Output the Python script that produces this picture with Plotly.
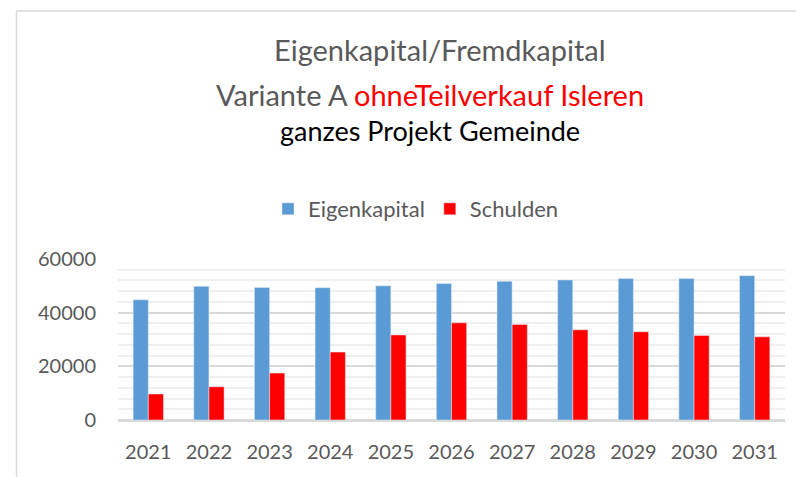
import plotly.graph_objects as go

years = ["2021", "2022", "2023", "2024", "2025", "2026", "2027", "2028", "2029", "2030", "2031"]
eigenkapital = [44800, 49800, 49400, 49300, 50000, 50900, 51700, 52200, 52700, 52700, 53800]
schulden = [9700, 12400, 17500, 25300, 31700, 36200, 35600, 33600, 32900, 31500, 31000]
y_ticks = [0, 20000, 40000, 60000]

W, H = 796, 477
L, R, T, B = 118, 11, 259, 57
PW, PH = W - L - R, H - T - B

def px_x(x):
    return (x - L) / PW

def px_y(y):
    return (H - B - y) / PH

FONT = "Lato"
GRAY = "#595959"

fig = go.Figure()
fig.add_trace(go.Bar(name="Eigenkapital", x=years, y=eigenkapital, marker_color="#5b9bd5"))
fig.add_trace(go.Bar(name="Schulden", x=years, y=schulden, marker_color="#ff0000"))

fig.update_layout(
    width=W, height=H,
    margin=dict(l=L, r=R, t=T, b=B),
    paper_bgcolor="white", plot_bgcolor="white",
    barmode="group", bargap=0.5, bargroupgap=0,
    font=dict(family=FONT, color=GRAY),
    showlegend=True,
    legend=dict(orientation="h", x=px_x(416), y=px_y(209), xanchor="center", yanchor="middle",
                font=dict(size=22, color=GRAY, family=FONT), itemwidth=30, traceorder="normal",
                bgcolor="rgba(0,0,0,0)"),
)
fig.update_yaxes(
    range=[0, 60000], tickvals=y_ticks, ticktext=[str(v) for v in y_ticks],
    showgrid=True, gridcolor="#d9d9d9", gridwidth=1.5,
    minor=dict(dtick=4000, showgrid=True, gridcolor="#efefef", gridwidth=1.5),
    zeroline=True, zerolinecolor="#d9d9d9", zerolinewidth=1.5,
    tickfont=dict(size=20, color=GRAY, family=FONT), ticklabelstandoff=21,
    showline=False, fixedrange=True,
)
fig.update_xaxes(
    tickfont=dict(size=20, color=GRAY, family=FONT), ticklabelstandoff=13,
    showline=True, linecolor="#d9d9d9", linewidth=1.5, showgrid=False, fixedrange=True,
)

fig.add_annotation(text="Eigenkapital/Fremdkapital", xref="paper", yref="paper",
                   x=px_x(440), y=px_y(50), xanchor="center", yanchor="middle", showarrow=False,
                   font=dict(size=29, color=GRAY, family=FONT))
fig.add_annotation(text="Variante A <span style='color:#ff0000'>ohneTeilverkauf Isleren</span>",
                   xref="paper", yref="paper",
                   x=px_x(430), y=px_y(94), xanchor="center", yanchor="middle", showarrow=False,
                   font=dict(size=29, color=GRAY, family=FONT))
fig.add_annotation(text="ganzes Projekt Gemeinde", xref="paper", yref="paper",
                   x=px_x(430), y=px_y(130), xanchor="center", yanchor="middle", showarrow=False,
                   font=dict(size=27, color="#000000", family=FONT))

# chart frame (top and left edges)
fig.add_shape(type="line", xref="paper", yref="paper", x0=px_x(16.5), x1=px_x(796), y0=px_y(11), y1=px_y(11),
              line=dict(color="#d9d9d9", width=1.5))
fig.add_shape(type="line", xref="paper", yref="paper", x0=px_x(16.5), x1=px_x(16.5), y0=px_y(11), y1=px_y(477),
              line=dict(color="#d9d9d9", width=1.5))

fig.write_html("out.html", config={"displayModeBar": False},
               post_script="document.body.style.margin='0';document.body.style.overflow='hidden';")
